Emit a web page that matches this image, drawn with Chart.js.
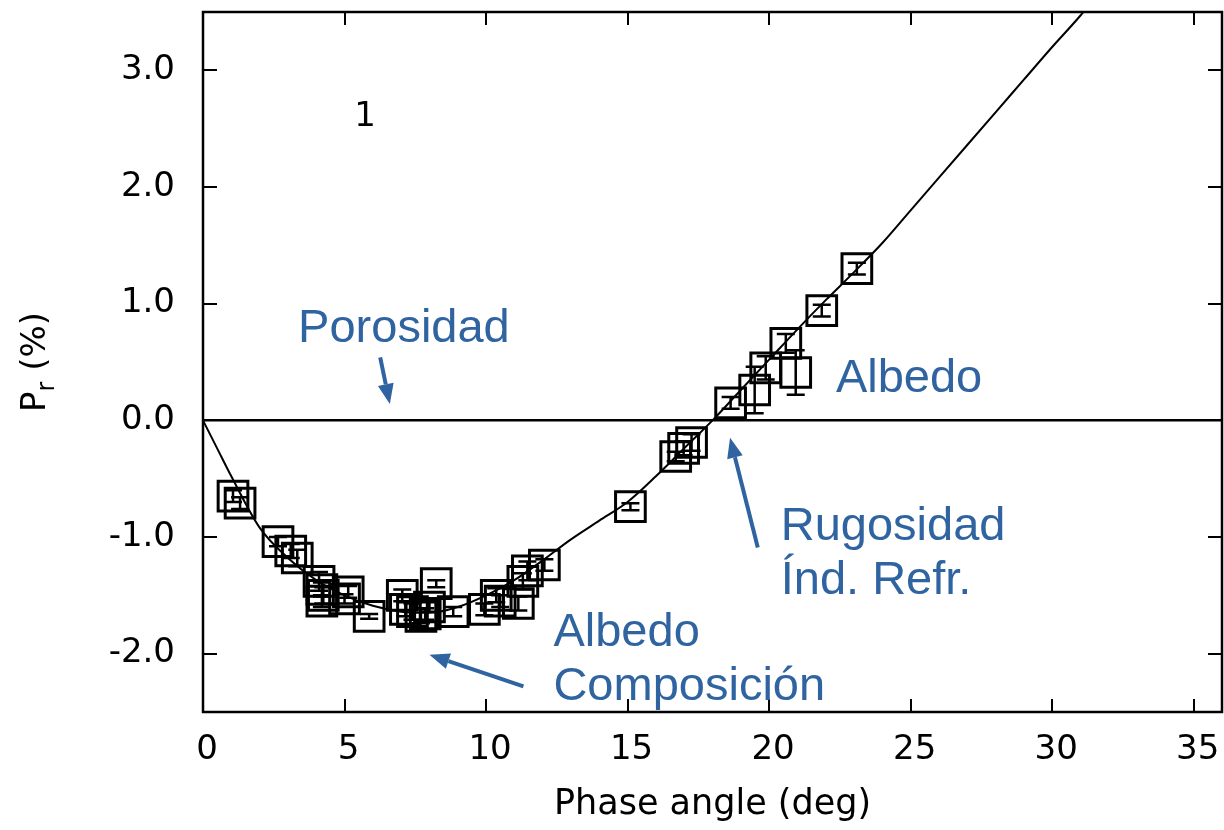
<!DOCTYPE html>
<html>
<head>
<meta charset="utf-8">
<script src="https://cdn.jsdelivr.net/npm/chart.js@4/dist/chart.umd.min.js"></script>
<style>
  html, body { margin: 0; background: #fff; }
  #wrap { width: 1224px; height: 830px; }
</style>
</head>
<body>
<div id="wrap"><canvas id="c"></canvas></div>
<script>
// measured points: phase angle (deg), Pr (%), error
const phase = [1.06, 1.31, 2.65, 3.1, 3.33, 4.1, 4.2, 4.25, 4.2, 5.0, 5.13, 5.87, 7.04, 7.15, 7.4, 7.7, 7.85, 8.0, 8.24, 8.84,
  9.94, 10.36, 10.5, 11.14, 11.3, 11.46, 12.06, 15.1, 16.7, 16.98, 17.26, 18.64, 19.49, 19.88, 20.59, 20.94, 21.86, 23.1];
const pol = [-0.65, -0.71, -1.04, -1.12, -1.18, -1.38, -1.45, -1.5, -1.55, -1.53, -1.47, -1.68, -1.5, -1.62, -1.64, -1.68, -1.66, -1.6, -1.4, -1.64,
  -1.62, -1.5, -1.55, -1.57, -1.38, -1.29, -1.24, -0.74, -0.31, -0.24, -0.19, 0.15, 0.26, 0.45, 0.66, 0.41, 0.94, 1.30];
const polErr = [0.05, 0.05, 0.04, 0.06, 0.07, 0.08, 0.06, 0.07, 0.05, 0.04, 0.05, 0.02, 0.05, 0.06, 0.07, 0.06, 0.05, 0.04, 0.03, 0.04,
  0.05, 0.06, 0.05, 0.06, 0.07, 0.08, 0.05, 0.03, 0.04, 0.06, 0.07, 0.05, 0.2, 0.1, 0.08, 0.19, 0.05, 0.05];

// fitted phase curve
const fitPhase = [0, 0.5, 1, 2, 3, 4, 5, 6, 7, 8, 9, 10, 11, 12, 13, 14, 15, 16, 17, 18,
  19, 20, 21, 22, 23, 24, 25, 26, 27, 28, 29, 30, 31, 31.2];
const fitPol = [0, -0.24, -0.48, -0.92, -1.18, -1.37, -1.5, -1.59, -1.64, -1.65, -1.6, -1.5, -1.37, -1.2, -1.02, -0.86, -0.7, -0.48, -0.24, 0.0,
  0.26, 0.52, 0.78, 1.03, 1.27, 1.52, 1.8, 2.08, 2.36, 2.64, 2.92, 3.2, 3.47, 3.53];

const xTicks = [0, 5, 10, 15, 20, 25, 30, 35];
const yTicks = [-2, -1, 0, 1, 2, 3];

const blue = '#2f64a1';
const tickFont = { family: 'DejaVu Sans', size: 34 };

// annotations in data units: text lines, anchor, arrow (tail -> tip)
const notes = [
  { lines: ['Porosidad'], x: 3.36, y: 0.669, arrow: [6.26, 0.54, 6.6, 0.14] },
  { lines: ['Albedo'], x: 22.36, y: 0.243 },
  { lines: ['Rugosidad', 'Índ. Refr.'], x: 20.41, y: -1.026, arrow: [19.6, -1.09, 18.62, -0.15] },
  { lines: ['Albedo', 'Composición'], x: 12.38, y: -1.934, arrow: [11.32, -2.28, 8.0, -2.01] }
];

const frame = {
  id: 'frame',
  afterDatasetsDraw(chart) {
    const { ctx, chartArea: a, scales: { x, y } } = chart;
    ctx.save();

    // error bars
    ctx.strokeStyle = '#000';
    ctx.lineWidth = 2.5;
    for (let i = 0; i < phase.length; i++) {
      const px = x.getPixelForValue(phase[i]);
      const y1 = y.getPixelForValue(pol[i] - polErr[i]);
      const y2 = y.getPixelForValue(pol[i] + polErr[i]);
      ctx.beginPath();
      ctx.moveTo(px, y1); ctx.lineTo(px, y2);
      ctx.moveTo(px - 9, y1); ctx.lineTo(px + 9, y1);
      ctx.moveTo(px - 9, y2); ctx.lineTo(px + 9, y2);
      ctx.stroke();
    }

    // box + inward ticks
    ctx.lineWidth = 2.5;
    ctx.strokeRect(a.left, a.top, a.right - a.left, a.bottom - a.top);
    ctx.lineWidth = 2;
    ctx.beginPath();
    xTicks.forEach(v => {
      const px = Math.round(x.getPixelForValue(v));
      ctx.moveTo(px, a.bottom); ctx.lineTo(px, a.bottom - 13);
      ctx.moveTo(px, a.top); ctx.lineTo(px, a.top + 13);
    });
    yTicks.forEach(v => {
      const py = Math.round(y.getPixelForValue(v));
      ctx.moveTo(a.left, py); ctx.lineTo(a.left + 14, py);
      ctx.moveTo(a.right, py); ctx.lineTo(a.right - 14, py);
    });
    ctx.stroke();

    // panel label
    ctx.fillStyle = '#000';
    ctx.font = '34px "DejaVu Sans"';
    ctx.textAlign = 'center';
    ctx.textBaseline = 'middle';
    ctx.fillText('1', x.getPixelForValue(5.73), y.getPixelForValue(2.6));

    // y title with subscript
    ctx.translate(45, (a.top + a.bottom) / 2);
    ctx.rotate(-Math.PI / 2);
    ctx.textAlign = 'left';
    ctx.textBaseline = 'alphabetic';
    const big = '34px "DejaVu Sans"', small = '24px "DejaVu Sans"';
    ctx.font = big; const wP = ctx.measureText('P').width; const wT = ctx.measureText(' (%)').width;
    ctx.font = small; const wr = ctx.measureText('r').width;
    let sx = -(wP + wr + wT) / 2;
    ctx.font = big; ctx.fillText('P', sx, 0); sx += wP;
    ctx.font = small; ctx.fillText('r', sx, 9); sx += wr;
    ctx.font = big; ctx.fillText(' (%)', sx, 0);
    ctx.restore();

    // blue annotations
    ctx.save();
    ctx.fillStyle = blue;
    ctx.strokeStyle = blue;
    ctx.font = '47px "Liberation Sans"';
    ctx.textBaseline = 'alphabetic';
    notes.forEach(n => {
      const px = x.getPixelForValue(n.x);
      n.lines.forEach((t, k) => ctx.fillText(t, px, y.getPixelForValue(n.y) + k * 54));
      if (n.arrow) {
        const [x0, y0, x1, y1] = n.arrow;
        const ax = x.getPixelForValue(x0), ay = y.getPixelForValue(y0);
        const bx = x.getPixelForValue(x1), by = y.getPixelForValue(y1);
        const ang = Math.atan2(by - ay, bx - ax);
        const hl = 20, hw = 8;
        ctx.lineWidth = 4;
        ctx.beginPath();
        ctx.moveTo(ax, ay);
        ctx.lineTo(bx - hl * Math.cos(ang), by - hl * Math.sin(ang));
        ctx.stroke();
        ctx.beginPath();
        ctx.moveTo(bx, by);
        ctx.lineTo(bx - hl * Math.cos(ang) + hw * Math.sin(ang), by - hl * Math.sin(ang) - hw * Math.cos(ang));
        ctx.lineTo(bx - hl * Math.cos(ang) - hw * Math.sin(ang), by - hl * Math.sin(ang) + hw * Math.cos(ang));
        ctx.closePath();
        ctx.fill();
      }
    });
    ctx.restore();
  }
};

new Chart(document.getElementById('c'), {
  type: 'scatter',
  data: {
    datasets: [
      {
        data: [{ x: 0, y: 0 }, { x: 36, y: 0 }],
        showLine: true, borderColor: '#000', borderWidth: 2.5, pointRadius: 0
      },
      {
        data: fitPhase.map((v, i) => ({ x: v, y: fitPol[i] })),
        showLine: true, borderColor: '#000', borderWidth: 2, pointRadius: 0,
        cubicInterpolationMode: 'monotone'
      },
      {
        data: phase.map((v, i) => ({ x: v, y: pol[i] })),
        pointStyle: 'rect', pointRadius: 21, borderColor: '#000', borderWidth: 3,
        backgroundColor: 'rgba(0,0,0,0)'
      }
    ]
  },
  options: {
    responsive: true,
    maintainAspectRatio: false,
    animation: false,
    devicePixelRatio: 1,
    layout: { autoPadding: false, padding: { top: 12, right: 2, left: 0, bottom: 0 } },
    plugins: { legend: { display: false }, tooltip: { enabled: false } },
    scales: {
      x: {
        type: 'linear', min: 0, max: 36,
        afterBuildTicks: s => { s.ticks = xTicks.map(v => ({ value: v })); },
        afterFit: s => { s.height = 118; s.paddingLeft = 0; s.paddingRight = 0; },
        grid: { display: false, drawTicks: false },
        border: { display: false },
        ticks: { font: tickFont, color: '#000', padding: 18, maxRotation: 0, labelOffset: 4, callback: v => String(v) },
        title: { display: true, text: 'Phase angle (deg)', color: '#000', font: { family: 'DejaVu Sans', size: 35 }, padding: { top: 4, bottom: 4 } }
      },
      y: {
        type: 'linear', min: -2.5, max: 3.5,
        afterBuildTicks: s => { s.ticks = yTicks.map(v => ({ value: v })); },
        afterFit: s => { s.width = 203; s.paddingTop = 0; s.paddingBottom = 0; },
        grid: { display: false, drawTicks: false },
        border: { display: false },
        ticks: { font: tickFont, color: '#000', padding: 28, callback: v => v.toFixed(1) }
      }
    }
  },
  plugins: [frame]
});
</script>
</body>
</html>
